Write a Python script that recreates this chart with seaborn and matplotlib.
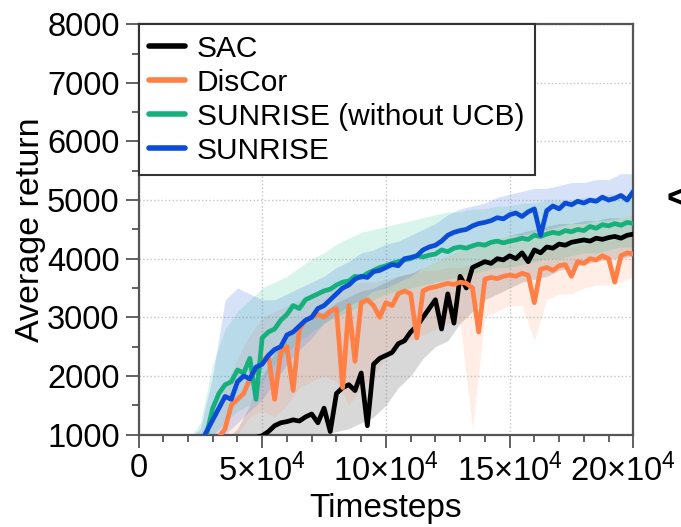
import numpy as np
import matplotlib
matplotlib.use("Agg")
import matplotlib.pyplot as plt
from matplotlib.ticker import MultipleLocator
from matplotlib.transforms import ScaledTranslation
import seaborn as sns

# timesteps for the mean curves (every 2.5k) and for the shaded bands (every 5k)
steps = np.arange(20000, 200001, 2500)
band_steps = np.arange(20000, 200001, 5000)

sac = [
    400, 450, 500, 550, 600, 650, 700, 750, 800, 850,
    900, 950, 980, 1050, 1150, 1200, 1220, 1250, 1230, 1300,
    1350, 1200, 1450, 1050, 1700, 1800, 1850, 1750, 2050, 1150,
    2200, 2300, 2350, 2400, 2550, 2600, 2750, 2850, 3000, 3150,
    3300, 2800, 3400, 2900, 3700, 3500, 3850, 3900, 3950, 3920,
    4000, 3980, 4050, 4000, 4100, 3950, 4150, 4100, 4200, 4180,
    4250, 4230, 4280, 4300, 4320, 4300, 4350, 4330, 4360, 4380,
    4350, 4400, 4420]
discor = [
    600, 650, 700, 800, 850, 950, 1100, 1500, 1600, 1700,
    1950, 2100, 2250, 2350, 1600, 2400, 2500, 1750, 2800, 2950,
    3000, 3050, 3000, 3100, 3150, 1800, 3200, 2250, 3250, 3300,
    3200, 3000, 3250, 3200, 3400, 3450, 3400, 2650, 3450, 3500,
    3520, 3550, 3580, 3560, 3600, 3580, 3500, 2750, 3650, 3680,
    3660, 3700, 3720, 3700, 3750, 3720, 3250, 3820, 3850, 3800,
    3880, 3900, 3700, 3950, 3920, 4000, 3980, 4050, 4000, 3600,
    4050, 4100, 4080]
sunrise_no_ucb = [
    700, 780, 880, 1000, 1450, 1700, 1850, 1900, 2100, 2050,
    2300, 1600, 2650, 2750, 2800, 2950, 3050, 3200, 3150, 3300,
    3350, 3400, 3450, 3480, 3550, 3600, 3620, 3700, 3680, 3750,
    3800, 3850, 3880, 3920, 3950, 3980, 4000, 4050, 4030, 4060,
    4080, 4150, 4120, 4180, 4200, 4180, 4220, 4250, 4230, 4280,
    4300, 4270, 4300, 4320, 4350, 4330, 4400, 4380, 4420, 4450,
    4430, 4480, 4460, 4500, 4480, 4550, 4520, 4580, 4560, 4600,
    4570, 4620, 4600]
sunrise = [
    700, 750, 850, 1050, 1250, 1450, 1650, 1600, 1900, 2000,
    1950, 2150, 2200, 2350, 2450, 2500, 2700, 2750, 2850, 2950,
    3000, 3150, 3200, 3300, 3400, 3500, 3550, 3650, 3700, 3680,
    3780, 3800, 3850, 3900, 3880, 4000, 4020, 4050, 4150, 4200,
    4230, 4300, 4400, 4450, 4480, 4500, 4560, 4600, 4620, 4650,
    4700, 4680, 4750, 4780, 4720, 4800, 4850, 4400, 4820, 4900,
    4850, 4950, 4920, 4980, 4950, 5000, 4980, 5050, 5000, 5030,
    5080, 5000, 5150]

# shaded spread (lower / upper) on the 5k grid
sac_lo = [300, 400, 500, 600, 700, 800, 850, 900, 900, 950, 950, 1000, 1050,
          1100, 1200, 1300, 1500, 1800, 2000, 2300, 2500, 2600, 2900, 3100,
          3300, 3400, 3500, 3600, 3650, 3700, 3800, 3850, 3900, 3950, 4000,
          4000, 4050]
sac_hi = [500, 600, 700, 900, 1100, 1500, 2000, 2400, 2700, 2900, 3000, 3100,
          3250, 3350, 3450, 3500, 3600, 3700, 3750, 3850, 3950, 4050, 4150,
          4250, 4300, 4350, 4400, 4450, 4500, 4550, 4600, 4600, 4650, 4650,
          4700, 4700, 4750]
discor_lo = [400, 500, 600, 800, 1000, 1300, 1400, 1300, 1500, 1800, 1900,
             2000, 1900, 1500, 1800, 2000, 2300, 2500, 2600, 2700, 2800, 2900,
             2900, 1100, 3000, 3100, 3200, 3200, 2600, 3300, 3400, 3400, 3500,
             3550, 3550, 3600, 3700]
discor_hi = [800, 1000, 1400, 1800, 2300, 2700, 3000, 3100, 3200, 3300, 3400,
             3500, 3500, 3550, 3600, 3600, 3650, 3700, 3750, 3800, 3800, 3850,
             3850, 3900, 3950, 4000, 4050, 4100, 4100, 4150, 4200, 4200, 4250,
             4300, 4300, 4350, 4400]
no_ucb_lo = [500, 600, 1000, 1200, 1400, 1500, 1900, 2200, 2400, 2600, 2750,
             2900, 3000, 3100, 3200, 3300, 3400, 3450, 3500, 3550, 3600, 3650,
             3700, 3750, 3800, 3850, 3850, 3900, 3950, 4000, 4000, 4050, 4100,
             4100, 4150, 4200, 4200]
no_ucb_hi = [900, 1200, 2200, 2800, 3100, 3300, 3500, 3600, 3700, 3850, 4000,
             4100, 4250, 4350, 4450, 4500, 4550, 4600, 4650, 4700, 4750, 4800,
             4800, 4850, 4850, 4900, 4900, 4950, 4950, 5000, 5000, 5000, 5050,
             5050, 5100, 5100, 5100]
sunrise_lo = [500, 600, 800, 1000, 1200, 1400, 1600, 1900, 2200, 2450, 2650,
              2900, 3050, 3200, 3300, 3450, 3500, 3600, 3700, 3850, 3950, 4050,
              4150, 4250, 4300, 4350, 4400, 4400, 4450, 4500, 4550, 4600, 4600,
              4650, 4650, 4700, 4750]
sunrise_hi = [900, 1100, 2000, 3300, 3500, 3400, 3300, 3300, 3400, 3500, 3600,
              3700, 3850, 3950, 4100, 4150, 4250, 4300, 4400, 4500, 4600, 4750,
              4850, 4900, 4950, 5050, 5100, 5150, 5200, 5200, 5250, 5300, 5300,
              5350, 5350, 5450, 5450]

labels = ['SAC', 'DisCor', 'SUNRISE (without UCB)', 'SUNRISE']
colors = ['#000000', '#FF7F45', '#16B07C', '#0A4CD8']
band_colors = ['#909090', '#FF8A5C', '#2FC48E', '#4A7FE8']
band_alpha = [0.35, 0.15, 0.18, 0.22]

sns.set_style('ticks')
plt.rcParams['font.family'] = ['Liberation Sans', 'DejaVu Sans']
plt.rcParams['mathtext.fontset'] = 'custom'
plt.rcParams['mathtext.rm'] = 'Liberation Sans'
plt.rcParams['mathtext.it'] = 'Liberation Sans'
plt.rcParams['text.color'] = 'black'
plt.rcParams['axes.labelcolor'] = 'black'

fig = plt.figure(figsize=(6.81, 5.27), dpi=100)
ax = fig.add_axes([0.2034, 0.1755, 0.7266, 0.7784])

means = [sac, discor, sunrise_no_ucb, sunrise]
lows = [sac_lo, discor_lo, no_ucb_lo, sunrise_lo]
highs = [sac_hi, discor_hi, no_ucb_hi, sunrise_hi]

for lo, hi, c, a in zip(lows, highs, band_colors, band_alpha):
    ax.fill_between(band_steps, lo, hi, color=c, alpha=a, lw=0, zorder=1)

for y, lab, c in zip(means, labels, colors):
    sns.lineplot(x=steps, y=y, color=c, lw=3.4, label=lab, ax=ax, zorder=3)

ax.set_xlim(0, 200000)
ax.set_ylim(1000, 8000)
ax.set_xticks([0, 50000, 100000, 150000, 200000])
ax.set_xticklabels(['0', '5×10$^{4}$', '10×10$^{4}$', '15×10$^{4}$',
                    '20×10$^{4}$'])
ax.set_yticks(range(1000, 8001, 1000))
ax.xaxis.set_minor_locator(MultipleLocator(10000))
ax.yaxis.set_minor_locator(MultipleLocator(500))

ax.grid(True, which='major', linestyle=':', color='#c4c4c4', linewidth=1.0)
ax.tick_params(which='major', direction='out', length=9.5, width=1.3,
               color='#555555', labelcolor='black', labelsize=23.5, pad=4)
ax.tick_params(which='minor', direction='out', length=5, width=1.3,
               color='#555555')
for s in ax.spines.values():
    s.set_visible(True)
    s.set_color('#555555')
    s.set_linewidth(1.6)

# last x label sits a little left of its tick so it stays inside the figure
last = ax.get_xticklabels()[-1]
last.set_transform(last.get_transform() +
                   ScaledTranslation(-0.1, 0, fig.dpi_scale_trans))

ax.set_xlabel('Timesteps', fontsize=24, labelpad=4)
ax.set_ylabel('Average return', fontsize=24.5, labelpad=1)

leg = ax.legend(loc='upper left', bbox_to_anchor=(0, 1), borderaxespad=0,
                frameon=True, fancybox=False, framealpha=1,
                edgecolor='#333333', fontsize=21.5, handlelength=1.2,
                handletextpad=0.4, labelspacing=0.2, borderpad=0.35)
leg.get_frame().set_linewidth(1.5)
for h in leg.get_lines():
    h.set_linewidth(4)

fig.text(0.978, 0.62, '<', fontsize=26, fontweight='bold', ha='left',
         va='center')

fig.savefig('out.png', dpi=100)
